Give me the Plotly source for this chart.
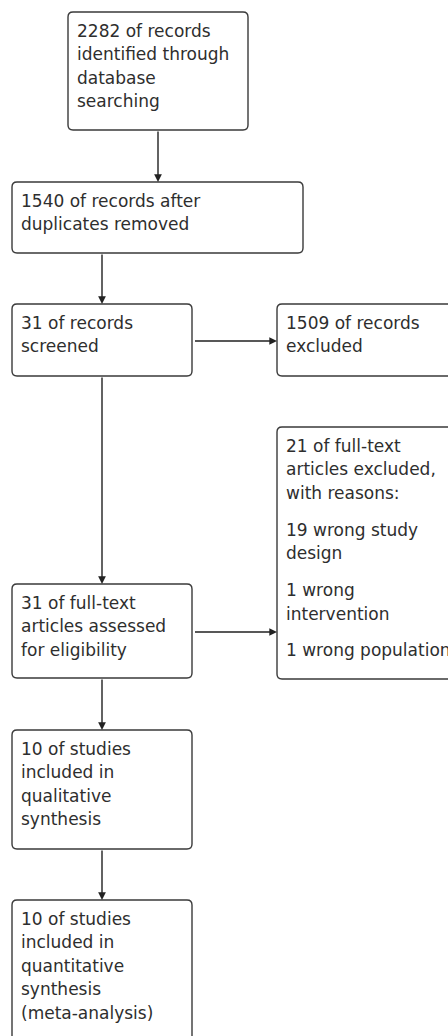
import plotly.graph_objects as go

# ---------------- data (PRISMA counts) ----------------
records_identified = 2282
records_after_duplicates = 1540
records_screened = 31
records_excluded = 1509
fulltext_assessed = 31
fulltext_excluded = 21
exclusion_counts = [19, 1, 1]
studies_qualitative = 10
studies_quantitative = 10

# text of each box: list of paragraphs, each a list of lines
box_text = {
    "identified": [[f"{records_identified} of records", "identified through", "database", "searching"]],
    "dedup": [[f"{records_after_duplicates} of records after", "duplicates removed"]],
    "screened": [[f"{records_screened} of records", "screened"]],
    "excluded": [[f"{records_excluded} of records", "excluded"]],
    "fulltext": [[f"{fulltext_assessed} of full-text", "articles assessed", "for eligibility"]],
    "ft_excluded": [[f"{fulltext_excluded} of full-text", "articles excluded,", "with reasons:"],
                    [f"{exclusion_counts[0]} wrong study", "design"],
                    [f"{exclusion_counts[1]} wrong", "intervention"],
                    [f"{exclusion_counts[2]} wrong population"]],
    "qualitative": [[f"{studies_qualitative} of studies", "included in", "qualitative", "synthesis"]],
    "quantitative": [[f"{studies_quantitative} of studies", "included in", "quantitative", "synthesis",
                      "(meta-analysis)"]],
}

# ---------------- layout (positions in page pixels) ----------------
W, H = 448, 1036
geom = {
    "identified": (68, 12, 248, 130),
    "dedup": (12, 182, 303, 253),
    "screened": (12, 304, 192, 376),
    "excluded": (277, 304, 470, 376),
    "fulltext": (12, 584, 192, 678),
    "ft_excluded": (277, 427, 470, 679),
    "qualitative": (12, 730, 192, 849),
    "quantitative": (12, 900, 192, 1060),
}
arrows = [
    ("identified", "dedup", "down"),
    ("dedup", "screened", "down"),
    ("screened", "excluded", "right"),
    ("screened", "fulltext", "down"),
    ("fulltext", "ft_excluded", "right"),
    ("fulltext", "qualitative", "down"),
    ("qualitative", "quantitative", "down"),
]
right_arrow_y = {"excluded": 341, "ft_excluded": 632}

LINE = "#3a3a3a"
TXT = "#2e2e2e"
FONT = "DejaVu Sans"
FS = 17
PAD_X = 6.5
FIRST = 18.5
PITCH = 23.6
PARA_GAP = 13.2
R = 5


def rounded(x0, y0, x1, y1, r=R):
    return (f"M {x0+r},{y0} L {x1-r},{y0} Q {x1},{y0} {x1},{y0+r} "
            f"L {x1},{y1-r} Q {x1},{y1} {x1-r},{y1} L {x0+r},{y1} "
            f"Q {x0},{y1} {x0},{y1-r} L {x0},{y0+r} Q {x0},{y0} {x0+r},{y0} Z")


fig = go.Figure()
shapes = []
annotations = []

for key, (x0, y0, x1, y1) in geom.items():
    shapes.append(dict(type="path", path=rounded(x0, y0, x1, y1), xref="x", yref="y",
                       line=dict(color=LINE, width=1.4), fillcolor="white", layer="below"))
    y = y0 + FIRST
    for p_i, para in enumerate(box_text[key]):
        if p_i > 0:
            y += PARA_GAP
        for line in para:
            annotations.append(dict(x=x0 + PAD_X, y=y, xref="x", yref="y", text=line,
                                    showarrow=False, xanchor="left", yanchor="middle",
                                    font=dict(family=FONT, size=FS, color=TXT)))
            y += PITCH

for src, dst, d in arrows:
    sx0, sy0, sx1, sy1 = geom[src]
    dx0, dy0, dx1, dy1 = geom[dst]
    if d == "down":
        if src == "identified":
            xc = (sx0 + sx1) / 2
        else:
            xc = (dx0 + dx1) / 2
        tail = (xc, sy1)
        head = (xc, dy0)
    else:
        yy = right_arrow_y[dst]
        tail = (sx1 + 1.5, yy)
        head = (dx0, yy)
    annotations.append(dict(x=head[0], y=head[1], ax=tail[0], ay=tail[1],
                            xref="x", yref="y", axref="x", ayref="y", text="",
                            showarrow=True, arrowhead=2, arrowsize=1.1, arrowwidth=1.4,
                            arrowcolor="#222222", standoff=0, startstandoff=0))

fig.update_layout(
    width=W, height=H,
    margin=dict(l=0, r=0, t=0, b=0),
    paper_bgcolor="white", plot_bgcolor="white",
    xaxis=dict(range=[0, W], visible=False, fixedrange=True),
    yaxis=dict(range=[H, 0], visible=False, fixedrange=True),
    shapes=shapes, annotations=annotations,
    showlegend=False,
)
fig.write_html("out.html", config={"displayModeBar": False},
               post_script="document.body.style.margin='0';document.body.style.overflow='hidden';")
